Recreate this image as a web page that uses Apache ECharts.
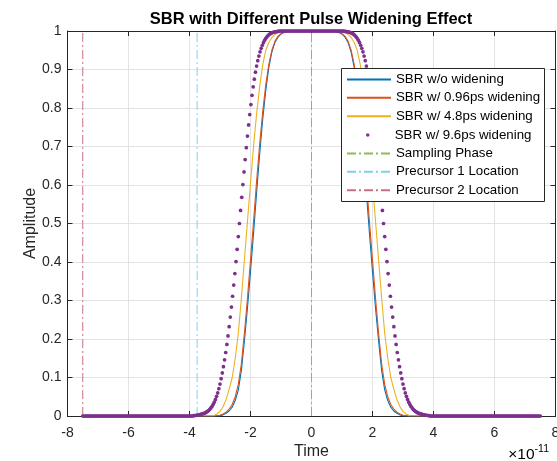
<!DOCTYPE html>
<html>
<head>
<meta charset="utf-8">
<script src="https://cdn.jsdelivr.net/npm/echarts@6/dist/echarts.min.js"></script>
<style>
html,body{margin:0;padding:0;background:#fff;}
#chart{width:557px;height:461px;}
</style>
</head>
<body>
<div id="chart"></div>
<script>
// Time in picoseconds; x axis is shown in units of 1e-11 s.
const lineTimesPs = [-75,
  -32,-31,-30,-29,-28,-27,-26,-25,-24,-23,-22,-21,-20,-19,-18,-17,-16,-15,-14,-13,-12,-11,-10,-9,-8,-7,
  -6,-5,-4,-3,-2,-1,0,1,2,3,4,5,6,
  7,8,9,10,11,12,13,14,15,16,17,18,19,20,21,22,23,24,25,26,27,28,29,30,31,32,
  75];

const sbrNoWidening = [0,
  0,0,0.001,0.003,0.007,0.013,0.023,0.040,0.068,0.118,0.195,0.280,0.375,0.475,0.580,0.680,0.770,0.845,0.905,0.945,0.970,0.984,0.992,0.996,0.998,1,
  1,1,1,1,1,1,1,1,1,1,1,1,1,
  1,0.998,0.996,0.992,0.984,0.970,0.945,0.905,0.845,0.770,0.680,0.580,0.475,0.375,0.280,0.195,0.118,0.068,0.040,0.023,0.013,0.007,0.003,0.001,0,0,
  0];

const sbr096ps = [0,
  0,0.001,0.002,0.005,0.010,0.018,0.030,0.050,0.082,0.135,0.215,0.305,0.405,0.505,0.610,0.705,0.790,0.860,0.913,0.950,0.973,0.986,0.993,0.997,0.999,1,
  1,1,1,1,1,1,1,1,1,1,1,1,1,
  1,0.999,0.997,0.993,0.986,0.973,0.950,0.913,0.860,0.790,0.705,0.610,0.505,0.405,0.305,0.215,0.135,0.082,0.050,0.030,0.018,0.010,0.005,0.002,0.001,0,
  0];

const sbr48ps = [0,
  0.001,0.005,0.012,0.024,0.043,0.069,0.100,0.150,0.215,0.305,0.405,0.505,0.605,0.700,0.785,0.855,0.912,0.950,0.970,0.983,0.991,0.996,0.999,1,1,1,
  1,1,1,1,1,1,1,1,1,1,1,1,1,
  1,1,1,0.999,0.996,0.991,0.983,0.970,0.950,0.912,0.855,0.785,0.700,0.605,0.505,0.405,0.305,0.215,0.150,0.100,0.069,0.043,0.024,0.012,0.005,0.001,
  0];

// 9.6ps widening: sampled every 0.375 ps starting at -75 ps
const dotStartPs = -75;
const dotStepPs = 0.375;
const sbr96ps = [
  0,0,0,0,0,0,0,0,0,0, 0,0,0,0,0,0,0,0,0,0, 0,0,0,0,0,0,0,0,0,0,
  0,0,0,0,0,0,0,0,0,0, 0,0,0,0,0,0,0,0,0,0, 0,0,0,0,0,0,0,0,0,0,
  0,0,0,0,0,0,0,0,0,0, 0,0,0,0,0,0,0,0,0,0, 0,0,0,0,0,0,0,0,0,0,
  0,0,0,0,0,0,0,
  0.001,0.001,0.002,0.002,0.003,0.003,0.004,0.005,0.006,0.007,
  0.008,0.010,0.012,0.014,0.017,0.021,0.025,0.030,0.036,0.043,
  0.051,0.060,0.071,0.083,0.097,0.112,0.128,0.146,0.165,0.186,
  0.208,0.232,0.257,0.283,0.311,0.340,0.370,0.401,0.433,0.466,
  0.500,
  0.534,0.568,0.601,0.634,0.666,0.697,0.727,0.756,0.783,0.809,
  0.833,0.855,0.875,0.893,0.909,0.923,0.935,0.946,0.955,0.963,
  0.970,0.976,0.981,0.985,0.988,0.991,0.993,0.995,0.996,0.997,
  0.998,0.998,0.999,0.999,
  1,1,1,1,1,1,1,1,1,1, 1,1,1,1,1,1,1,1,1,1, 1,1,1,1,1,1,1,1,1,1,
  1,1,1,1,1,1,1,1,1,1, 1,1,1,1,1,1,1,1,1,1, 1,1,1,1,1,1,1,
  0.999,0.999,0.998,0.998,
  0.997,0.996,0.995,0.993,0.991,0.988,0.985,0.981,0.976,0.970,
  0.963,0.955,0.946,0.935,0.923,0.909,0.893,0.875,0.855,0.833,
  0.809,0.783,0.756,0.727,0.697,0.666,0.634,0.601,0.568,0.534,
  0.500,
  0.466,0.433,0.401,0.370,0.340,0.311,0.283,0.257,0.232,0.208,
  0.186,0.165,0.146,0.128,0.112,0.097,0.083,0.071,0.060,0.051,
  0.043,0.036,0.030,0.025,0.021,0.017,0.014,0.012,0.010,0.008,
  0.007,0.006,0.005,0.004,0.003,0.003,0.002,0.002,0.001,0.001,
  0,0,0,0,0,0,0,0,0,0, 0,0,0,0,0,0,0,0,0,0, 0,0,0,0,0,0,0,0,0,0,
  0,0,0,0,0,0,0,0,0,0, 0,0,0,0,0,0,0,0,0,0, 0,0,0,0,0,0,0,0,0,0,
  0,0,0,0,0,0,0,0,0,0, 0,0,0,0,0,0,0,0,0,0, 0,0,0,0,0,0,0,0,0,0,
  0,0,0,0,0,0,0
];

const samplingPhasePs = 0;
const precursor1Ps = -37.5;
const precursor2Ps = -75;
const verticalSpan = [0, 1];

const xTicks = [-8, 8, 2];
const yTicks = [0, 1, 0.1];

const seriesNames = ['SBR w/o widening','SBR w/ 0.96ps widening','SBR w/ 4.8ps widening','SBR w/ 9.6ps widening','Sampling Phase','Precursor 1 Location','Precursor 2 Location'];
const seriesColors = ['#0072BD','#D95319','#EDB120','#7E2F8E','#8DBB55','#7FCFF1','#C7707F'];

const toAxis = ps => ps / 10; // ps -> units of 1e-11 s

const chart = echarts.init(document.getElementById('chart'), null, {renderer:'canvas'});
const FONT = '"Liberation Sans", Arial, Helvetica, sans-serif';
const TXT = '#262626';
const dashDot = [9, 3, 2, 3];

function linePairs(vals){ return lineTimesPs.map((t,i)=>[toAxis(t), vals[i]]); }
function vline(ps){ return verticalSpan.map(v=>[toAxis(ps), v]); }

const axisCommon = {
  axisLine:{show:true, onZero:false, lineStyle:{color:TXT, width:1}},
  axisTick:{show:true, inside:true, length:5, lineStyle:{color:TXT}},
};
const legendText = {fontFamily:FONT, fontSize:13.3, color:'#000', lineHeight:14};

function lineSeries(idx, data, dashed){
  return {name:seriesNames[idx], type:'line', data:data, symbol:'none', z:2,
    color:seriesColors[idx],
    lineStyle:{color:seriesColors[idx], width:dashed ? 1 : 1.1, type:dashed ? dashDot : 'solid'},
    itemStyle:{color:seriesColors[idx]}};
}

const option = {
  animation:false,
  backgroundColor:'#fff',
  color:seriesColors,
  textStyle:{fontFamily:FONT},
  title:{
    text:'SBR with Different Pulse Widening Effect',
    left:306, top:6, textAlign:'center',
    textStyle:{fontFamily:FONT, fontSize:16.5, fontWeight:'bold', color:'#000'}
  },
  grid:{left:67.5, right:1.5, top:31, bottom:45, containLabel:false, outerBoundsMode:'none'},
  xAxis:[
    Object.assign({type:'value', min:xTicks[0], max:xTicks[1], interval:xTicks[2], position:'bottom',
      name:'Time', nameLocation:'middle', nameGap:28, nameMoveOverlap:false,
      nameTextStyle:{fontFamily:FONT, fontSize:16, color:TXT},
      axisLabel:{fontFamily:FONT, fontSize:14, color:TXT, margin:10, hideOverlap:false},
      splitLine:{show:true, lineStyle:{color:'#e3e3e3', width:1}}}, axisCommon),
    Object.assign({type:'value', min:xTicks[0], max:xTicks[1], interval:xTicks[2], position:'top',
      axisLabel:{show:false}, splitLine:{show:false}}, axisCommon)
  ],
  yAxis:[
    Object.assign({type:'value', min:yTicks[0], max:yTicks[1], interval:yTicks[2], position:'left',
      name:'Amplitude', nameLocation:'middle', nameGap:29, nameMoveOverlap:false,
      nameTextStyle:{fontFamily:FONT, fontSize:16, color:TXT},
      axisLabel:{fontFamily:FONT, fontSize:14, color:TXT, margin:6},
      splitLine:{show:true, lineStyle:{color:'#e3e3e3', width:1}}}, axisCommon),
    Object.assign({type:'value', min:yTicks[0], max:yTicks[1], interval:yTicks[2], position:'right',
      axisLabel:{show:false}, splitLine:{show:false}}, axisCommon)
  ],
  legend:[
    {data:seriesNames.slice(0,3), orient:'vertical', left:346, top:72.5, padding:0, itemGap:4.33,
     itemWidth:44, itemHeight:14, itemStyle:{opacity:0}, textStyle:legendText},
    {data:[seriesNames[3]], orient:'vertical', left:366, top:128, padding:0,
     itemWidth:44, itemHeight:3.5, textStyle:legendText},
    {data:seriesNames.slice(4), orient:'vertical', left:346, top:146.5, padding:0, itemGap:4.33,
     itemWidth:44, itemHeight:14, itemStyle:{opacity:0}, textStyle:legendText}
  ],
  graphic:[
    {type:'rect', z:3, shape:{x:341.5, y:68.5, width:203, height:133},
     style:{fill:'#fff', stroke:'#262626', lineWidth:1}},
    {type:'text', z:5, right:8, top:444,
     style:{text:'{a|×10}{b|-11}', rich:{
       a:{fontFamily:FONT, fontSize:15.5, color:TXT, verticalAlign:'bottom', padding:[8,0,0,0]},
       b:{fontFamily:FONT, fontSize:10.5, color:TXT, verticalAlign:'top', padding:[5,0,0,0]}}}}
  ],
  series:[
    lineSeries(0, linePairs(sbrNoWidening), false),
    lineSeries(1, linePairs(sbr096ps), false),
    lineSeries(2, linePairs(sbr48ps), false),
    {name:seriesNames[3], type:'scatter', symbol:'circle', symbolSize:3.7, z:2,
     data:sbr96ps.map((v,i)=>[toAxis(dotStartPs + i*dotStepPs), v]),
     itemStyle:{color:seriesColors[3], opacity:1}},
    lineSeries(4, vline(samplingPhasePs), true),
    lineSeries(5, vline(precursor1Ps), true),
    lineSeries(6, vline(precursor2Ps), true)
  ]
};
chart.setOption(option);
</script>
</body>
</html>
